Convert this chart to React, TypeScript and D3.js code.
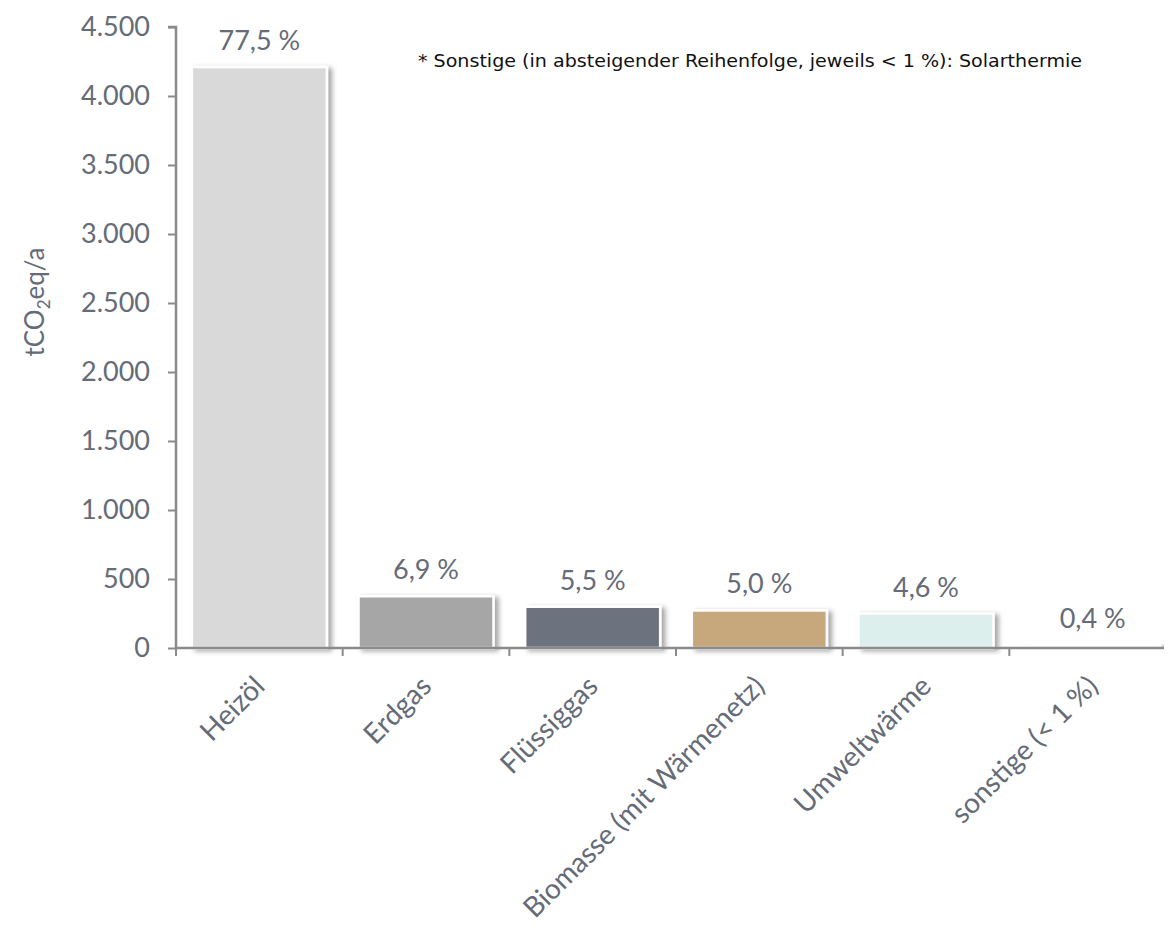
import React, { useEffect, useRef } from 'react';
import * as d3 from 'd3';

const categories = ['Heizöl', 'Erdgas', 'Flüssiggas', 'Biomasse (mit Wärmenetz)', 'Umweltwärme', 'sonstige (< 1 %)'];
const values = [4210, 375, 299, 272, 250, 22];
const shareLabels = ['77,5 %', '6,9 %', '5,5 %', '5,0 %', '4,6 %', '0,4 %'];
const barColors = ['#d9d9d9', '#a6a6a6', '#6d737e', '#c6a87c', '#dcefec', '#f4f4f4'];
const yTicks = [0, 500, 1000, 1500, 2000, 2500, 3000, 3500, 4000, 4500];
const footnote = '* Sonstige (in absteigender Reihenfolge, jeweils < 1 %): Solarthermie';

const Chart = () => {
  const ref = useRef<SVGSVGElement | null>(null);

  useEffect(() => {
    const svg = d3.select(ref.current);
    svg.selectAll('*').remove();

    const left = 176, right = 1176, top = 27, bottom = 648;
    const gray = '#656b77';
    const axisGray = '#8a8a8a';
    const font = "Lato, 'Open Sans', sans-serif";

    const defs = svg.append('defs');
    const filter = defs.append('filter').attr('id', 'shadow')
      .attr('x', '-10%').attr('y', '-10%').attr('width', '130%').attr('height', '130%');
    filter.append('feDropShadow')
      .attr('dx', 4).attr('dy', 2).attr('stdDeviation', 2.5)
      .attr('flood-color', '#000').attr('flood-opacity', 0.35);

    const x = d3.scaleBand<string>()
      .domain(categories)
      .range([left, right])
      .paddingInner(0.19)
      .paddingOuter(0.095);

    const y = d3.scaleLinear().domain([0, 4500]).range([bottom, top]);

    // y axis
    const yAxis = svg.append('g')
      .attr('transform', `translate(${left},0)`)
      .call(d3.axisLeft(y).tickValues(yTicks).tickSize(8).tickPadding(18)
        .tickFormat(d => d3.format(',')(d as number).replace(/,/g, '.')));
    yAxis.select('.domain').attr('stroke', axisGray).attr('stroke-width', 2.5)
      .attr('d', `M-8,${top}H0V${bottom}`);
    yAxis.selectAll('.tick line').attr('stroke', axisGray).attr('stroke-width', 2);
    yAxis.selectAll('.tick text')
      .attr('fill', gray).style('font-size', '27px').style('font-family', font);

    // bars
    svg.append('g').selectAll('rect')
      .data(values)
      .join('rect')
      .attr('x', (d, i) => x(categories[i])!)
      .attr('y', d => y(d))
      .attr('width', x.bandwidth())
      .attr('height', d => bottom - y(d))
      .attr('fill', (d, i) => barColors[i])
      .attr('stroke', '#fff')
      .attr('stroke-width', 2.5)
      .attr('filter', 'url(#shadow)');

    // x axis
    const step = x.step();
    const xg = svg.append('g');
    xg.append('line')
      .attr('x1', left).attr('x2', right - 12)
      .attr('y1', bottom).attr('y2', bottom)
      .attr('stroke', axisGray).attr('stroke-width', 2.5);
    xg.selectAll('line.tick')
      .data(d3.range(categories.length))
      .join('line')
      .attr('class', 'tick')
      .attr('x1', i => left + i * step)
      .attr('x2', i => left + i * step)
      .attr('y1', bottom)
      .attr('y2', bottom + 8)
      .attr('stroke', axisGray).attr('stroke-width', 2);

    // category labels
    svg.append('g').selectAll('text')
      .data(categories)
      .join('text')
      .attr('transform', d => `translate(${x(d)! + x.bandwidth() / 2 + 7},${bottom + 40}) rotate(-45)`)
      .attr('text-anchor', 'end')
      .attr('fill', gray)
      .style('font-size', '28px')
      .style('font-family', font)
      .text(d => d);

    // value labels
    svg.append('g').selectAll('text')
      .data(values)
      .join('text')
      .attr('x', (d, i) => x(categories[i])! + x.bandwidth() / 2)
      .attr('y', d => y(d) - 17)
      .attr('text-anchor', 'middle')
      .attr('fill', gray)
      .style('font-size', '27px')
      .style('font-family', font)
      .text((d, i) => shareLabels[i]);

    // y label
    const yl = svg.append('text')
      .attr('transform', `translate(44,302) rotate(-90)`)
      .attr('text-anchor', 'middle')
      .attr('fill', gray)
      .style('font-size', '26px')
      .style('font-family', font);
    yl.append('tspan').text('tCO');
    yl.append('tspan').attr('dy', 6).style('font-size', '17px').text('2');
    yl.append('tspan').attr('dy', -6).text('eq/a');

    // footnote
    svg.append('text')
      .attr('x', 418).attr('y', 67)
      .attr('fill', '#111')
      .attr('textLength', 664)
      .attr('lengthAdjust', 'spacingAndGlyphs')
      .style('font-size', '18px')
      .style('font-family', "'DejaVu Sans Condensed', 'DejaVu Sans', sans-serif")
      .text(footnote);
  }, []);

  return <svg ref={ref} width={1172} height={938} style={{ display: 'block' }} />;
};

export default function App() {
  return (
    <div style={{ margin: -8 }}>
      <Chart />
    </div>
  );
}
